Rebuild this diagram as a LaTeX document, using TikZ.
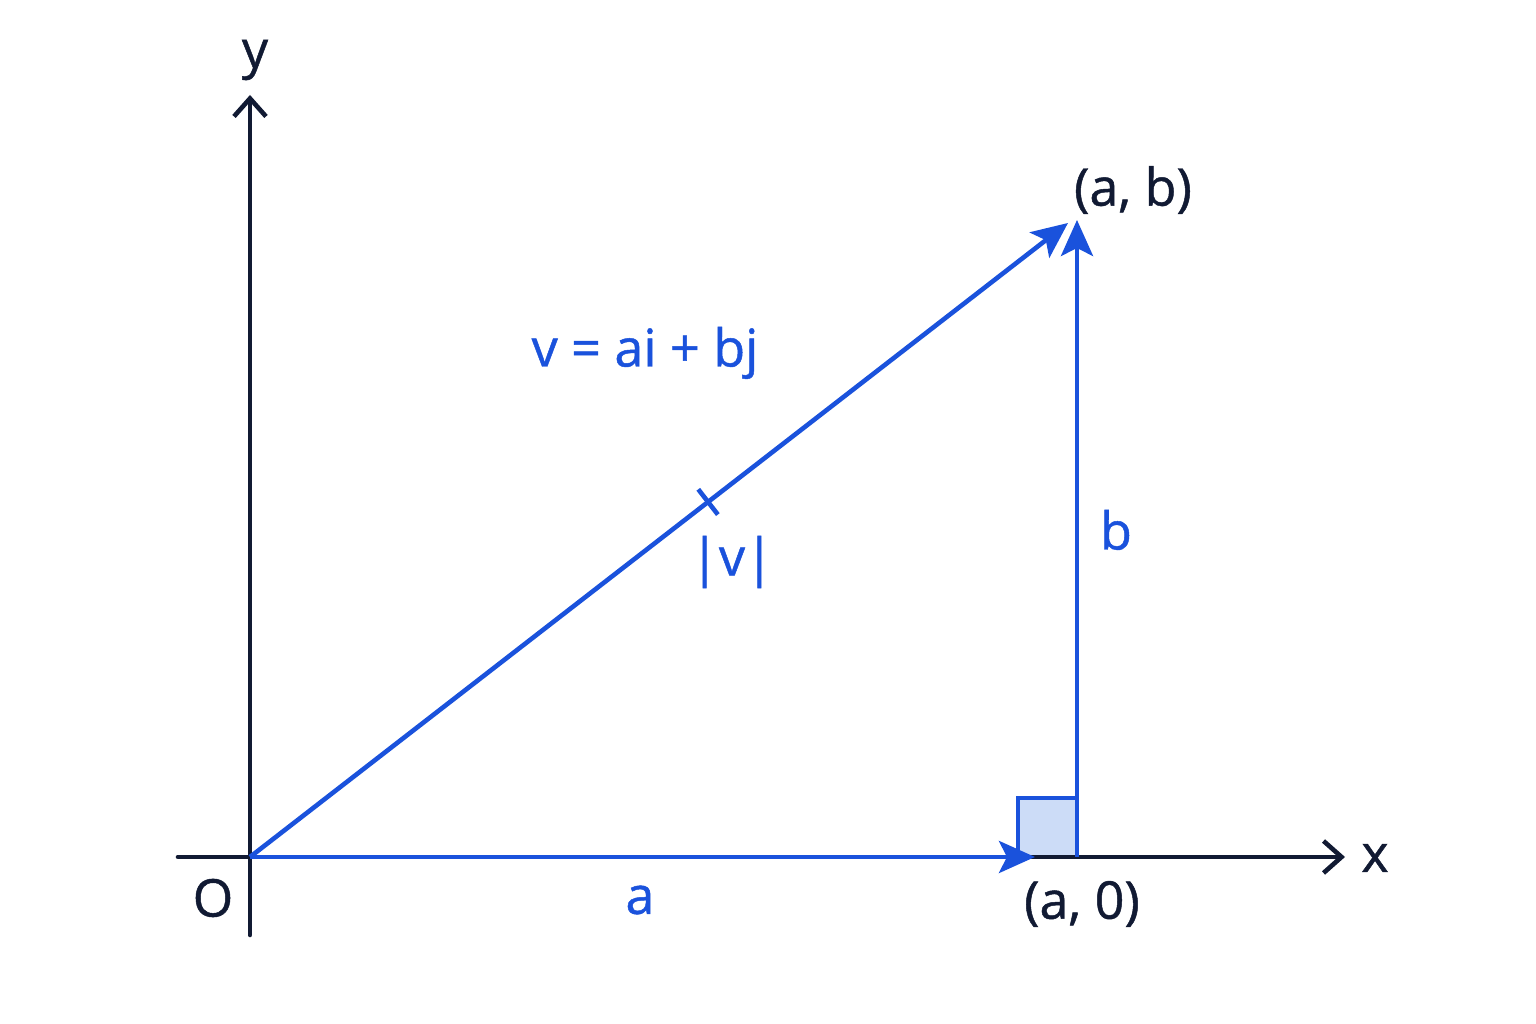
\documentclass[tikz,border=0pt]{standalone}
\usepackage{fontspec}
\setmainfont{Open Sans}
\newfontfamily\labelfont{Open Sans}[FakeBold=0.9]
\usetikzlibrary{arrows.meta,calc,positioning}
\definecolor{axisink}{HTML}{111A33}
\definecolor{vecblue}{HTML}{1A52DC}
\definecolor{boxfill}{HTML}{CCDCF7}
\tikzset{
    axis line/.style  = {axisink, line width=1.15pt, line cap=round, -{Straight Barb[length=4.5pt,width=8pt,line width=1.15pt]}},
    axis label/.style = {axisink, font=\labelfont\fontsize{13}{15}\selectfont, inner sep=0pt},
    vec line/.style   = {vecblue, line width=1.15pt, -{Stealth[length=9pt,width=8pt,inset=2pt]}},
    vec label/.style  = {vecblue, font=\labelfont\fontsize{13}{15}\selectfont, inner sep=0pt},
    right box/.style  = {draw=vecblue, fill=boxfill, line width=1.15pt}
}
\begin{document}
\begin{tikzpicture}[x=0.25pt,y=-0.25pt]
	\useasboundingbox[fill=white] (0,0) rectangle (1536,1024);
	% points
	\coordinate (O) at (250,857);
	\coordinate (P) at (1077,857);
	\coordinate (Q) at (1077,220);
	\coordinate (V) at (1068,223);
	\coordinate (xs) at (178,857);
	\coordinate (xe) at (1345,857);
	\coordinate (ys) at (250,935);
	\coordinate (ye) at (250,95);
		% right angle mark
		\draw[right box] (1018,798) rectangle (P);
		% axes
		\draw[axis line] (xs) -- (xe);
		\draw[axis line] (ys) -- (ye);
		% vector and its components
		\draw[vec line] (O) -- (1035,857);
		\draw[vec line] (P) -- (Q);
		\draw[vec line] (O) -- (V);
		\coordinate (mid) at ($(O)!0.56!(V)$);
		\draw[vecblue, line width=1.15pt] ($(mid)!4pt!90:(V)$) -- ($(mid)!4pt!-90:(V)$);
		\begin{scope}[every node/.style={axis label}]
			\node (ylab) at (255,60) {y};
			\node (xlab) at (1375,858) {x};
			\node (olab) at (213,898) {O};
			\node (ablab) at (1133,190) {(a, b)};
			\node (a0lab) at (1082,904) {(a, 0)};
		\end{scope}
		\begin{scope}[every node/.style={vec label}]
			\node (vlab) at (645,353) {v = ai + bj};
			\node (normlab) at (732,562) {|v|};
			\node (blab) at (1116,530) {b};
			\node (alab) at (640,900) {a};
		\end{scope}
	\end{tikzpicture}
\end{document}
